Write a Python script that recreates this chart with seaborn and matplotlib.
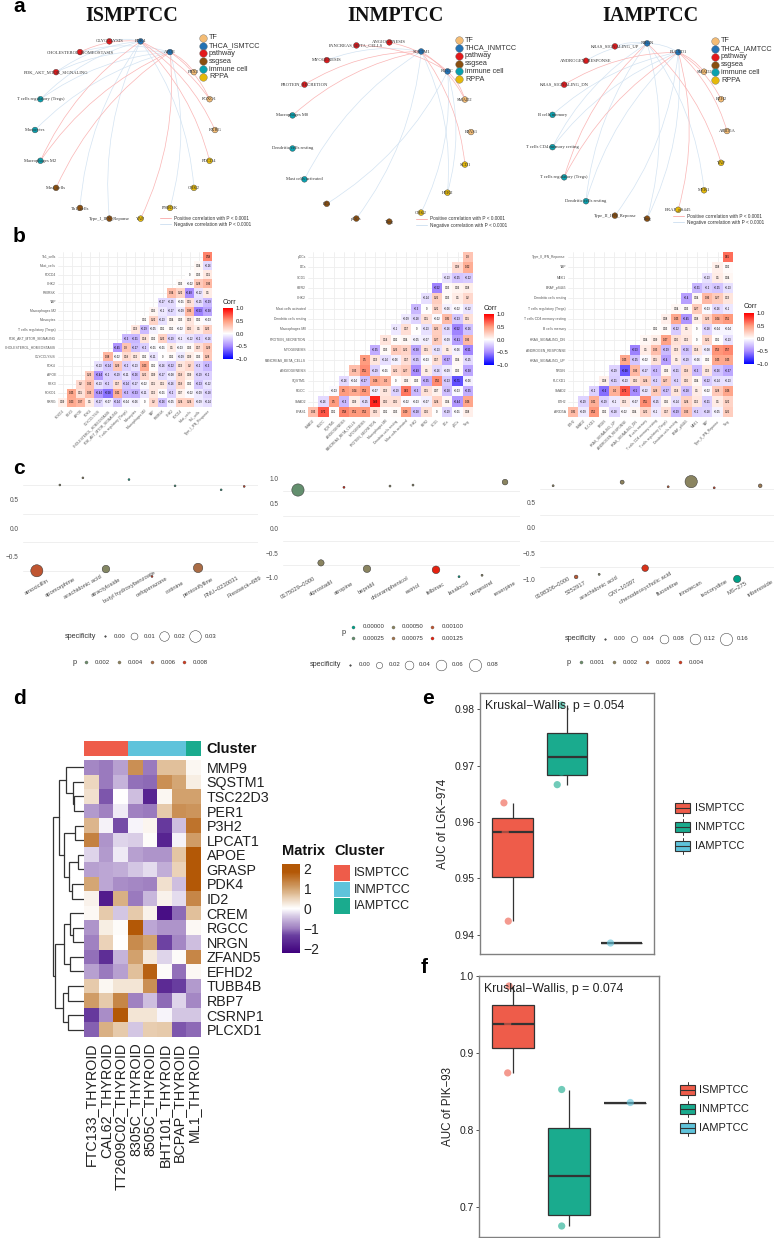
import numpy as np
import pandas as pd
import matplotlib
matplotlib.use("Agg")
import matplotlib.pyplot as plt
from matplotlib.colors import LinearSegmentedColormap, ListedColormap, Normalize
from matplotlib.patches import FancyArrowPatch, Rectangle
import seaborn as sns

W, H = 774, 1238

# ---- panel a: networks
is_nodes = ["PDK4", "APOE", "PBX3", "FOXO1", "RXRG", "PDCD4", "CHK2", "P90RSK", "YAP",
            "Type_I_IFN_Reponse", "Th1_cells", "Mast_cells", "Macrophages M2", "Monocytes",
            "T cells regulatory (Tregs)", "PI3K_AKT_MTOR_SIGNALING",
            "CHOLESTEROL_HOMEOSTASIS", "GLYCOLYSIS"]
is_groups = ["hub"] * 2 + ["TF"] * 3 + ["RPPA"] * 4 + ["ssgsea"] * 3 + ["immune cell"] * 3 + ["pathway"] * 3
is_pos = [("PDK4", "CHOLESTEROL_HOMEOSTASIS"), ("PDK4", "Macrophages M2"), ("PDK4", "FOXO1"),
          ("PDK4", "RXRG"), ("PDK4", "PDCD4"), ("APOE", "Macrophages M2"), ("APOE", "Mast_cells"),
          ("APOE", "YAP"), ("APOE", "PBX3"), ("APOE", "FOXO1")]
is_neg = [("PDK4", "GLYCOLYSIS"), ("PDK4", "PI3K_AKT_MTOR_SIGNALING"), ("PDK4", "T cells regulatory (Tregs)"),
          ("PDK4", "Th1_cells"), ("PDK4", "Type_I_IFN_Reponse"), ("PDK4", "CHK2"),
          ("APOE", "CHOLESTEROL_HOMEOSTASIS"), ("APOE", "PI3K_AKT_MTOR_SIGNALING"),
          ("APOE", "T cells regulatory (Tregs)"), ("APOE", "Monocytes"), ("APOE", "P90RSK")]

in_nodes = ["SQSTM1", "RGCC", "SMAD2", "EPAS1", "SCD1", "HER2", "CHK2", "Treg", "pDCs", "DCs",
            "Mast cells activated", "Dendritic cells resting", "Macrophages M0",
            "PROTEIN_SECRETION", "MYOGENESIS", "PANCREAS_BETA_CELLS", "ANGIOGENESIS"]
in_groups = ["hub"] * 2 + ["TF"] * 2 + ["RPPA"] * 3 + ["ssgsea"] * 3 + ["immune cell"] * 3 + ["pathway"] * 4
in_pos = [("SQSTM1", "PROTEIN_SECRETION"), ("SQSTM1", "Macrophages M0"), ("SQSTM1", "SMAD2"),
          ("SQSTM1", "SCD1"), ("RGCC", "ANGIOGENESIS"), ("RGCC", "PANCREAS_BETA_CELLS"),
          ("RGCC", "SMAD2")]
in_neg = [("SQSTM1", "MYOGENESIS"), ("SQSTM1", "Mast cells activated"), ("SQSTM1", "pDCs"),
          ("SQSTM1", "HER2"), ("RGCC", "DCs"), ("RGCC", "CHK2"), ("RGCC", "HER2")]

ia_nodes = ["NRGN", "PLCXD1", "SMAD2", "EZH2", "ARID5A", "YAP", "MEK1", "BRAF_pS445", "Treg",
            "Type_II_IFN_Reponse", "Dendritic cells resting", "T cells regulatory (Tregs)",
            "T cells CD4 memory resting", "B cells memory", "KRAS_SIGNALING_DN",
            "ANDROGEN_RESPONSE", "KRAS_SIGNALING_UP"]
ia_groups = ["hub"] * 2 + ["TF"] * 3 + ["RPPA"] * 3 + ["ssgsea"] * 2 + ["immune cell"] * 4 + ["pathway"] * 3
ia_pos = [("NRGN", "T cells regulatory (Tregs)"), ("NRGN", "YAP"), ("PLCXD1", "KRAS_SIGNALING_DN"),
          ("PLCXD1", "T cells regulatory (Tregs)"), ("PLCXD1", "BRAF_pS445"), ("PLCXD1", "EZH2"),
          ("PLCXD1", "SMAD2"), ("PLCXD1", "ARID5A")]
ia_neg = [("NRGN", "KRAS_SIGNALING_UP"), ("NRGN", "ANDROGEN_RESPONSE"), ("NRGN", "T cells CD4 memory resting"),
          ("NRGN", "Dendritic cells resting"), ("NRGN", "Treg"), ("NRGN", "MEK1"),
          ("PLCXD1", "NRGN"), ("PLCXD1", "B cells memory"), ("PLCXD1", "T cells CD4 memory resting"),
          ("PLCXD1", "Type_II_IFN_Reponse"), ("PLCXD1", "Dendritic cells resting"), ("PLCXD1", "Treg")]

# ---- panel b: correlation triangles, rows from the bottom up
is_cols = ["FOXO1", "PBX3", "APOE", "PDK4", "GLYCOLYSIS", "CHOLESTEROL_HOMEOSTASIS",
           "PI3K_AKT_MTOR_SIGNALING", "T cells regulatory (Tregs)", "Monocytes", "Macrophages M2",
           "YAP", "P90RSK", "CHK2", "PDCD4", "Mast_cells", "Th1_cells", "Type_I_IFN_Response"]
is_rows = ["RXRG", "FOXO1", "PBX3", "APOE", "PDK4", "GLYCOLYSIS", "CHOLESTEROL_HOMEOSTASIS",
           "PI3K_AKT_MTOR_SIGNALING", "T cells regulatory (Tregs)", "Monocytes", "Macrophages M2",
           "YAP", "P90RSK", "CHK2", "PDCD4", "Mast_cells", "Th1_cells"]
is_corr = [
    [0.09, 0.43, 0.37, 0.1, -0.17, -0.07, -0.24, -0.04, -0.06, 0, 0.2, -0.26, -0.05, 0.24, 0.24, -0.09, -0.14],
    [0.45, 0.15, 0.33, -0.44, -0.58, 0.41, -0.3, -0.33, -0.11, 0.12, -0.01, -0.2, 0.07, -0.02, -0.09, -0.18],
    [0.2, 0.32, -0.13, -0.2, 0.17, -0.24, -0.17, -0.02, 0.11, 0.11, -0.16, 0.19, 0.02, -0.23, -0.12],
    [0.26, -0.44, -0.2, -0.19, -0.11, -0.26, 0.21, 0.09, -0.17, -0.08, 0.19, 0.09, -0.19, -0.2],
    [-0.13, -0.24, 0.29, -0.2, -0.13, 0.43, 0.01, -0.16, -0.22, 0.13, 0.2, -0.2, -0.3],
    [0.38, -0.02, 0.19, 0.12, 0.02, -0.11, 0.0, 0.02, -0.09, 0.09, 0.03, 0.28],
    [-0.45, 0.3, -0.27, -0.2, -0.01, -0.01, 0.1, -0.03, 0.03, 0.17, 0.29],
    [-0.3, -0.31, 0.14, 0.02, 0.23, -0.19, -0.1, -0.12, -0.2, -0.16],
    [0.13, -0.29, -0.05, 0.01, 0.02, -0.02, 0.16, 0.1, 0.23],
    [0.01, 0.22, -0.13, 0.04, 0.03, 0.13, 0.02, -0.03],
    [0.05, -0.1, -0.17, -0.09, 0.36, -0.53, -0.38],
    [-0.17, -0.15, -0.01, 0.15, -0.15, -0.29],
    [0.34, 0.22, -0.48, -0.12, 0.1],
    [0.03, -0.02, 0.28, 0.36],
    [0, 0.03, 0.11],
    [0.04, -0.16],
    [0.58],
]

in_cols = ["SMAD2", "RGCC", "SQSTM1", "ANGIOGENESIS", "PANCREAS_BETA_CELLS", "MYOGENESIS",
           "PROTEIN_SECRETION", "Macrophages M0", "Dendritic cells resting", "Mast cells activated",
           "CHK2", "HER2", "SCD1", "DCs", "pDCs", "Treg"]
in_rows = ["EPAS1", "SMAD2", "RGCC", "SQSTM1", "ANGIOGENESIS", "PANCREAS_BETA_CELLS", "MYOGENESIS",
           "PROTEIN_SECRETION", "Macrophages M0", "Dendritic cells resting", "Mast cells activated",
           "CHK2", "HER2", "SCD1", "DCs", "pDCs"]
in_corr = [
    [0.33, 0.72, 0.01, 0.58, 0.51, 0.52, 0.16, 0.01, 0.03, 0.49, -0.28, 0.16, 0, -0.19, -0.01, 0.08],
    [-0.16, 0.5, -0.3, 0.09, -0.15, 0.89, 0.16, 0.16, -0.02, -0.03, -0.07, 0.24, 0.04, -0.44, 0.46],
    [-0.03, 0.5, 0.44, 0.52, -0.07, 0.13, -0.19, 0.62, -0.3, 0.15, 0.07, -0.28, -0.03, -0.35],
    [-0.16, -0.04, -0.27, 0.46, 0.4, 0, 0.06, 0.03, -0.35, 0.56, -0.23, -0.71, -0.06],
    [0.33, 0.55, -0.19, -0.01, 0.21, 0.27, -0.49, 0.1, -0.16, -0.09, 0.03, -0.38],
    [0.5, 0.13, -0.14, -0.06, 0.17, -0.25, -0.03, 0.17, -0.37, 0.04, -0.15],
    [-0.35, 0.03, 0.26, 0.22, -0.38, 0.15, -0.13, 0.1, -0.06, -0.51],
    [0.14, 0.02, 0.04, -0.05, -0.07, 0.27, -0.09, -0.41, 0.36],
    [-0.1, 0.17, 0, -0.13, 0.25, -0.16, -0.52, -0.26],
    [-0.09, -0.18, 0.15, -0.02, 0.35, -0.23, 0.15],
    [-0.3, 0, 0.21, -0.06, -0.02, -0.12],
    [-0.14, 0.25, 0.03, 0.1, 0.2],
    [-0.52, 0.03, 0.06, 0.08],
    [-0.13, -0.25, -0.22],
    [0.18, 0.42],
    [0.3],
]

ia_cols = ["EZH2", "SMAD2", "PLCXD1", "NRGN", "KRAS_SIGNALING_UP", "ANDROGEN_RESPONSE",
           "KRAS_SIGNALING_DN", "B cells memory", "T cells CD4 memory resting",
           "T cells regulatory (Tregs)", "Dendritic cells resting", "BRAF_pS445", "MEK1", "YAP",
           "Type_II_IFN_Reponse", "Treg"]
ia_rows = ["ARID5A", "EZH2", "SMAD2", "PLCXD1", "NRGN", "KRAS_SIGNALING_UP", "ANDROGEN_RESPONSE",
           "KRAS_SIGNALING_DN", "B cells memory", "T cells CD4 memory resting",
           "T cells regulatory (Tregs)", "Dendritic cells resting", "BRAF_pS445", "MEK1", "YAP",
           "Type_II_IFN_Reponse"]
ia_corr = [
    [0.35, -0.09, 0.52, 0.02, -0.18, -0.02, 0.04, 0.22, -0.1, 0.17, -0.29, 0.33, -0.2, -0.18, -0.05, 0.25],
    [-0.19, 0.41, -0.19, -0.1, 0.12, -0.07, 0.55, -0.15, 0.05, -0.14, 0.24, 0.12, -0.21, 0.1, 0.22],
    [-0.2, -0.6, 0.4, 0.72, -0.5, -0.12, 0.28, -0.27, 0.14, -0.28, 0.1, -0.02, 0.28, 0.46],
    [0.08, -0.21, -0.13, 0.16, 0.24, -0.2, 0.27, -0.2, 0.16, 0.04, -0.22, -0.14, -0.13],
    [-0.19, -0.68, 0.36, -0.17, -0.3, 0.06, -0.21, 0.19, -0.3, 0.13, -0.26, -0.37],
    [0.45, -0.25, -0.02, 0.15, -0.4, 0.1, -0.19, -0.06, 0.02, 0.45, 0.45],
    [-0.53, 0.1, 0.33, -0.29, 0.13, -0.26, 0.14, -0.08, 0.53, 0.57],
    [0.04, 0.09, 0.47, 0.16, 0.12, 0, 0.21, 0.01, -0.13],
    [0.01, 0.03, -0.22, 0.1, 0, -0.18, -0.04, -0.04],
    [0.08, 0.45, -0.45, 0.08, 0.23, 0.44, 0.51],
    [0.04, 0.03, 0.27, -0.03, -0.16, -0.1],
    [-0.4, 0.04, 0.36, 0.27, 0.13],
    [-0.31, -0.2, -0.25, -0.13],
    [-0.13, 0.1, 0.04],
    [0.08, 0.02],
    [0.65],
]

# ---- panel c: drug bubbles
c1_drugs = ["amoxicillin", "apomorphine", "arachidonic acid", "atractyloside", "butyl hydroxybenzoate",
            "cefoperazone", "cotinine", "pentoxifylline", "PNU\u22120230031", "Prestwick\u2212689"]
c1_corr = [-0.75, 0.755, 0.88, -0.72, 0.85, -0.85, 0.74, -0.70, 0.67, 0.73]
c1_spec = [0.032, 0.0003, 0.0003, 0.012, 0.0003, 0.0003, 0.0003, 0.019, 0.0003, 0.0003]
c1_p = [0.0072, 0.003, 0.004, 0.003, 0.0002, 0.0085, 0.001, 0.006, 0.0006, 0.008]

c2_drugs = ["0175029\u22120000", "alprostadil", "atropine", "bepridil", "chloramphenicol", "estriol",
            "felbinac", "lasalocid", "norgestrel", "reserpine"]
c2_corr = [0.775, -0.70, 0.83, -0.82, 0.855, 0.875, -0.84, -0.98, -0.95, 0.935]
c2_spec = [0.08, 0.02, 0.001, 0.028, 0.001, 0.001, 0.03, 0.001, 0.001, 0.016]
c2_p = [0.00025, 0.0005, 0.00125, 0.0005, 0.0005, 0.0005, 0.00125, 0.0, 0.0005, 0.0005]

c3_drugs = ["0198306\u22120000", "5252917", "arachidonic acid", "CAY\u221210397", "chenodeoxycholic acid",
            "fluoxetine", "irinotecan", "isocorydine", "MS\u2212275", "tribenoside"]
c3_corr = [0.82, -0.95, -0.90, 0.89, -0.78, 0.80, 0.90, 0.78, -0.99, 0.82]
c3_spec = [0.002, 0.012, 0.002, 0.015, 0.045, 0.002, 0.16, 0.002, 0.055, 0.012]
c3_p = [0.002, 0.0035, 0.0015, 0.002, 0.0042, 0.0035, 0.0018, 0.004, 0.0, 0.0025]

# ---- panel d: expression heatmap
d_genes = ["MMP9", "SQSTM1", "TSC22D3", "PER1", "P3H2", "LPCAT1", "APOE", "GRASP", "PDK4", "ID2",
           "CREM", "RGCC", "NRGN", "ZFAND5", "EFHD2", "TUBB4B", "RBP7", "CSRNP1", "PLCXD1"]
d_lines = ["FTC133_THYROID", "CAL62_THYROID", "TT2609C02_THYROID", "8305C_THYROID", "8505C_THYROID",
           "BHT101_THYROID", "BCPAP_THYROID", "ML1_THYROID"]
d_cluster = [0, 0, 0, 1, 1, 1, 1, 2]
d_values = [
    [-0.9, -1.0, -0.7, 1.2, -1.0, 0.7, 0.7, 0.1],
    [0.45, -1.0, -0.55, -1.05, -1.1, 1.2, 0.95, 0.2],
    [0.35, -1.2, 0.0, -0.45, -1.7, 0.1, 1.0, 1.0],
    [-0.75, -0.95, -0.15, -0.95, -1.0, 0.6, 1.2, 1.15],
    [0.8, -0.1, -1.25, -0.08, 0.12, -1.4, -0.45, 1.5],
    [1.35, -0.8, -0.3, -0.35, 0.05, -1.7, -0.1, 1.05],
    [-0.3, -0.75, -0.15, -0.7, -0.8, -0.8, 0.65, 2.0],
    [-0.7, -0.65, -0.6, -0.4, -0.25, -0.6, 0.5, 2.0],
    [0.95, -0.65, -0.85, -0.9, -0.95, 0.35, -0.45, 1.8],
    [0.15, -1.8, 0.85, -1.0, -0.5, 0.15, -0.25, 1.3],
    [0.08, 0.6, -0.4, 0.6, 0.15, -2.0, -1.1, 0.7],
    [-0.8, 0.2, 0.05, 2.0, -0.65, -0.8, -0.8, 0.08],
    [-0.95, 0.5, 0.0, 1.25, 1.0, -1.3, -0.9, -0.45],
    [-1.05, -1.55, -0.55, 1.0, 0.25, -0.3, 0.05, 1.3],
    [-0.7, -1.0, -0.7, 0.7, 1.7, 0.05, -1.05, 0.08],
    [0.6, 0.1, 0.3, 0.3, 1.2, -1.6, -1.35, -0.75],
    [1.05, 0.6, 1.3, -0.95, -0.45, -1.1, -0.3, -0.9],
    [-1.4, -0.85, 2.0, 0.3, 0.3, -0.07, -0.4, -0.4],
    [-1.15, 0.85, 0.6, -0.4, 0.55, 0.6, -1.2, -1.1],
]
# nested merges: (height, left, right), ints are row numbers
d_tree = (1.0,
          (0.81, (0.57, 0, (0.36, 1, (0.31, 2, 3))),
           (0.64, (0.29, 4, 5), (0.49, (0.18, 6, 7), (0.40, 8, 9)))),
          (0.94, (0.64, (0.46, 10, (0.37, 11, 12)), (0.46, 13, 14)),
           (0.69, (0.53, 15, 16), (0.53, 17, 18))))

# ---- panels e, f: boxplots
clusters = ["ISMPTCC", "INMPTCC", "IAMPTCC"]
e_group = [0, 0, 0, 1, 1, 1, 1, 2]
e_auc = [0.9634, 0.9582, 0.9424, 0.98077, 0.97414, 0.96882, 0.96663, 0.93852]
e_jitter = [-0.16, -0.135, -0.08, -0.10, 0.04, -0.10, -0.18, -0.20]
f_group = [0, 0, 0, 1, 1, 1, 1, 2]
f_auc = [0.987, 0.938, 0.874, 0.8524, 0.7857, 0.6939, 0.6749, 0.8355]
f_jitter = [-0.065, -0.09, -0.09, -0.13, -0.15, -0.065, -0.13, 0.09]

NODE_COLORS = {"TF": "#F4BC74", "hub": "#2272B4", "pathway": "#E2191C", "ssgsea": "#8A4F10",
               "immune cell": "#09A0AE", "RPPA": "#E5B90A"}
CLUSTER_COLORS = ["#EE5C4A", "#1AAB8E", "#5FC3DB"]
HEAT_CLUSTER = ["#EE5C4A", "#5FC3DB", "#1AAB8E"]

sns.set_theme(style="white")
plt.rcParams["font.family"] = ["Liberation Sans", "DejaVu Sans"]
plt.rcParams["axes.unicode_minus"] = True

fig = plt.figure(figsize=(W / 100, H / 100), dpi=100)


def ax_px(x0, y0, x1, y1):
    return fig.add_axes([x0 / W, 1 - y1 / H, (x1 - x0) / W, (y1 - y0) / H])


corr_cmap = LinearSegmentedColormap.from_list(
    "corr", ["#0000FF", "#A78AFF", "#FFFFFF", "#FF9E81", "#FF0000"])
p_cmap = LinearSegmentedColormap.from_list(
    "pval", ["#00A087", "#7C8B68", "#93805A", "#B5623A", "#E6210F"])
d_cmap = LinearSegmentedColormap.from_list(
    "puor", [(0, "#3F007D"), (0.2, "#6A3FA0"), (0.273, "#9C7CBF"), (0.386, "#C9B8DC"), (0.5, "#FFFFFF"),
             (0.614, "#EBD3B9"), (0.727, "#D2A26E"), (0.909, "#B35806"), (1, "#B35806")])


def draw_network(box, center, radius, first_angle, nodes, groups, pos, neg):
    ax = ax_px(*box)
    cx, cy = center
    ax.set_xlim((box[0] - cx) / radius, (box[2] - cx) / radius)
    ax.set_ylim((cy - box[3]) / radius, (cy - box[1]) / radius)
    ax.axis("off")
    step = 360.0 / len(nodes)
    angles = np.radians(first_angle + step * np.arange(len(nodes)))
    df = pd.DataFrame({"name": nodes, "group": groups, "x": np.sin(angles), "y": np.cos(angles)})
    where = df.set_index("name")
    for pairs, color in [(neg, "#D3E3F2"), (pos, "#FAB4B4")]:
        for a, b in pairs:
            pa, pb = where.loc[a, ["x", "y"]].values, where.loc[b, ["x", "y"]].values
            d = pb - pa
            # bend away from the middle of the ring
            side = np.dot((pa + pb) / 2, [d[1], -d[0]])
            rad = 0.14 if side >= 0 else -0.14
            ax.add_patch(FancyArrowPatch(tuple(pa), tuple(pb), connectionstyle=f"arc3,rad={rad}",
                                         arrowstyle="-", color=color, lw=0.5, shrinkA=0, shrinkB=0))
    sns.scatterplot(data=df, x="x", y="y", hue="group", palette=NODE_COLORS, s=17, edgecolor="#444444",
                    linewidth=0.3, legend=False, ax=ax, zorder=3, clip_on=False)
    ax.set_xlabel("")
    ax.set_ylabel("")
    for _, row in df.iterrows():
        ax.text(row["x"], row["y"], row["name"], fontsize=3.3, family=["Liberation Serif"], color="#333333",
                ha="center", va="center", zorder=4, clip_on=False)


draw_network((0, 25, 260, 235), (125, 130), 90, 10, is_nodes, is_groups, is_pos, is_neg)
draw_network((262, 25, 515, 235), (381, 132), 90, 26.5, in_nodes, in_groups, in_pos, in_neg)
draw_network((520, 25, 774, 235), (639, 131), 88, 5.3, ia_nodes, ia_groups, ia_pos, ia_neg)


def draw_triangle(box, cbar_box, cols, rows, corr):
    n = len(cols)
    mat = np.full((n, n), np.nan)
    for k, vals in enumerate(corr):
        mat[k, n - len(vals):] = vals
    mat = mat[::-1]
    labels = np.full((n, n), "", dtype=object)
    for (i, j), v in np.ndenumerate(mat):
        if not np.isnan(v):
            labels[i, j] = f"{v:g}".replace("-", "\u2212")
    ax = ax_px(*box)
    cax = ax_px(*cbar_box)
    sns.heatmap(mat, mask=np.isnan(mat), cmap=corr_cmap, vmin=-1, vmax=1, annot=labels, fmt="",
                annot_kws={"fontsize": 1.9, "color": "black"}, linewidths=0,
                xticklabels=cols, yticklabels=rows[::-1], cbar_ax=cax, ax=ax,
                cbar_kws={"ticks": [-1, -0.5, 0, 0.5, 1]})
    ax.set_axisbelow(True)
    ax.grid(True, color="#EEEEEE", lw=0.6)
    ax.tick_params(length=0, labelsize=2.4, labelcolor="#555555", pad=1.5)
    plt.setp(ax.get_xticklabels(), rotation=45, ha="right", rotation_mode="anchor")
    plt.setp(ax.get_yticklabels(), rotation=0)
    cb = ax.collections[0].colorbar
    cb.outline.set_visible(False)
    cb.ax.tick_params(length=0, labelsize=4.3, pad=2, labelcolor="#222222")
    cb.ax.set_yticklabels(["\u22121.0", "\u22120.5", "0.0", "0.5", "1.0"])
    fig.text(cbar_box[0] / W, 1 - (cbar_box[1] - 6) / H, "Corr", fontsize=5, va="center", color="#222222")


draw_triangle((58, 252, 212.5, 407), (223, 308, 233, 359), is_cols, is_rows, is_corr)
draw_triangle((308, 252, 473, 417), (484, 314, 494, 365), in_cols, in_rows, in_corr)
draw_triangle((568, 252, 733, 417), (744, 313, 754, 364), ia_cols, ia_rows, ia_corr)


def draw_bubbles(box, ylim, yticks, drugs, corr, spec, p, p_max, spec_max, xlim):
    ax = ax_px(*box)
    df = pd.DataFrame({"drug": drugs, "corr": corr, "specificity": spec, "p": p})
    sns.scatterplot(data=df, x="drug", y="corr", hue="p", hue_norm=Normalize(0, p_max), palette=p_cmap,
                    size="specificity", size_norm=Normalize(0, spec_max), sizes=(1.2, 78),
                    edgecolor="#333333", linewidth=0.35, legend=False, ax=ax, zorder=3, clip_on=False)
    ax.set_xlim(*xlim)
    ax.set_ylim(*ylim)
    ax.set_yticks(yticks)
    ax.set_yticks(np.array([-0.75, -0.25, 0.25, 0.75]), minor=True)
    ax.grid(True, which="minor", axis="y", color="#EFEFEF", lw=0.7)
    ax.set_axisbelow(True)
    ax.set_yticklabels([f"{t:.1f}".replace("-", "\u2212") for t in yticks])
    ax.set_xticks(range(len(drugs)))
    ax.set_xticklabels(drugs, rotation=30, ha="center", va="center", rotation_mode="anchor")
    ax.tick_params(axis="x", length=0, labelsize=4.2, labelcolor="#4D4D4D", pad=3.8)
    ax.tick_params(axis="y", which="both", length=0, labelsize=4.7, labelcolor="#4D4D4D", pad=3)
    ax.set_xlabel("")
    ax.set_ylabel("")
    sns.despine(ax=ax, left=True, bottom=True)


draw_bubbles((23, 470, 258, 582), (-0.947, 1.018), [-0.5, 0, 0.5], c1_drugs, c1_corr, c1_spec, c1_p,
             0.009, 0.033, (-0.6, 9.6))
draw_bubbles((283, 470, 520, 583), (-1.107, 1.18), [-1, -0.5, 0, 0.5, 1], c2_drugs, c2_corr, c2_spec, c2_p,
             0.00125, 0.08, (-0.65, 9.65))
draw_bubbles((540, 470, 774, 583), (-1.068, 1.126), [-1, -0.5, 0, 0.5], c3_drugs, c3_corr, c3_spec, c3_p,
             0.0045, 0.16, (-0.57, 9.6))


# panel d
dendro_ax = ax_px(53, 760, 84, 1037)
dendro_ax.set_xlim(1.0, 0)
dendro_ax.set_ylim(19, 0)
dendro_ax.axis("off")


def draw_tree(node):
    if isinstance(node, int):
        return node + 0.5, 0.0
    h, left, right = node
    y1, h1 = draw_tree(left)
    y2, h2 = draw_tree(right)
    dendro_ax.plot([h1, h, h, h2], [y1, y1, y2, y2], color="#333333", lw=0.9, solid_joinstyle="miter",
                   clip_on=False)
    return (y1 + y2) / 2, h


draw_tree(d_tree)

bar_ax = ax_px(84, 741, 201, 756)
sns.heatmap(np.array([d_cluster]), cmap=ListedColormap(HEAT_CLUSTER), cbar=False,
            xticklabels=False, yticklabels=False, ax=bar_ax)

d_ax = ax_px(84, 760, 201, 1037)
d_cax = ax_px(282, 864, 299.5, 953)
sns.heatmap(np.array(d_values), cmap=d_cmap, vmin=-2.2, vmax=2.2, xticklabels=d_lines, yticklabels=d_genes,
            cbar_ax=d_cax, cbar_kws={"ticks": [-2, -1, 0, 1, 2]}, ax=d_ax)
d_ax.yaxis.tick_right()
d_ax.tick_params(length=0, labelsize=10.3, labelcolor="#222222", pad=4)
plt.setp(d_ax.get_yticklabels(), rotation=0)
plt.setp(d_ax.get_xticklabels(), rotation=90)
cb = d_ax.collections[0].colorbar
cb.outline.set_visible(False)
cb.ax.set_yticklabels(["\u22122", "\u22121", "0", "1", "2"])
cb.ax.tick_params(axis="y", direction="in", length=4, width=0.7, color="white", left=True, right=True,
                  labelsize=10, labelcolor="#222222", pad=3)


def draw_box(box, ylim, yticks, ylabel, label_x, stat, group, auc, jitter):
    ax = ax_px(*box)
    df = pd.DataFrame({"cluster": [clusters[g] for g in group], "auc": auc})
    sns.boxplot(data=df, x="cluster", y="auc", hue="cluster", order=clusters, hue_order=clusters,
                palette=CLUSTER_COLORS, width=0.75, showfliers=False, showcaps=False, saturation=1,
                linecolor="#333333", linewidth=0.9, medianprops={"linewidth": 1.6}, legend=False, ax=ax)
    pts = pd.DataFrame({"pos": np.array(group) + np.array(jitter), "auc": auc,
                        "cluster": df["cluster"]})
    sns.scatterplot(data=pts, x="pos", y="auc", hue="cluster", palette=CLUSTER_COLORS, hue_order=clusters,
                    s=27, alpha=0.62, linewidth=0, legend=False, ax=ax, zorder=5, clip_on=False)
    ax.set_xlim(-0.6, 2.6)
    ax.set_ylim(*ylim)
    ax.set_yticks(yticks)
    ax.set_yticklabels([f"{t:.2f}" if t > 0.93 and box[1] < 900 else f"{t:.1f}" for t in yticks])
    ax.set_xticks([])
    ax.set_xlabel("")
    ax.set_ylabel("")
    ax.tick_params(axis="y", left=True, length=2.5, width=0.6, color="#333333", labelsize=7.4,
                   labelcolor="#222222", pad=1.5)
    for s in ax.spines.values():
        s.set_color("#808080")
        s.set_linewidth(1)
    fig.text(label_x / W, 1 - (box[1] + box[3]) / 2 / H, ylabel, rotation=90, fontsize=8.4, color="#222222",
             ha="center", va="center")
    fig.text((box[0] + 5) / W, 1 - (box[1] + 13) / H, stat, fontsize=8.8, color="#222222", va="center")


draw_box((480, 693, 654, 954), (0.93657, 0.9829), [0.94, 0.95, 0.96, 0.97, 0.98], "AUC of LGK\u2212974", 443,
         "Kruskal\u2212Wallis, p = 0.054", e_group, e_auc, e_jitter)
draw_box((479, 976, 659, 1237), (0.6606, 1.0), [0.7, 0.8, 0.9, 1.0], "AUC of PIK\u221293", 448,
         "Kruskal\u2212Wallis, p = 0.074", f_group, f_auc, f_jitter)

# overlay in pixel units: titles, letters and hand-placed legends
ov = fig.add_axes([0, 0, 1, 1], zorder=20)
ov.set_xlim(0, W)
ov.set_ylim(H, 0)
ov.axis("off")
ov.patch.set_alpha(0)

for letter, x, y in [("a", 13, 12), ("b", 13, 242), ("c", 13, 474), ("d", 13, 704), ("e", 422, 704), ("f", 421, 973)]:
    ov.text(x, y, letter, fontsize=15, fontweight="bold", color="black", ha="left", va="baseline")
for title, x in [("ISMPTCC", 132), ("INMPTCC", 395), ("IAMPTCC", 650)]:
    ov.text(x, 16, title, fontsize=14.5, fontweight="bold", family=["Liberation Serif"], color="#111111",
            ha="center", va="center")

net_keys = ["TF", "hub", "pathway", "ssgsea", "immune cell", "RPPA"]
for hub_name, kx, ky, tx, line_x, line_y in [("THCA_ISMTCC", 203, 37.7, 209, 160, 218),
                                             ("THCA_INMTCC", 458.7, 40, 465, 416, 219),
                                             ("THCA_IAMTCC", 715, 41, 721, 673, 216)]:
    for i, key in enumerate(net_keys):
        y = ky + i * 7.85
        ov.scatter([kx], [y], s=30, color=NODE_COLORS[key], edgecolor="#777777", linewidth=0.3, zorder=2)
        ov.text(tx, y, hub_name if key == "hub" else key, fontsize=5.2, color="#333333", va="center")
    for i, (txt, col) in enumerate([("Positive correlation with P < 0.0001", "#FAB4B4"),
                                    ("Negative correlation with P < 0.0001", "#D3E3F2")]):
        y = line_y + i * 6.3
        ov.plot([line_x, line_x + 11], [y, y], color=col, lw=0.7)
        ov.text(line_x + 14, y, txt, fontsize=3.4, color="#333333", va="center")


def spec_legend(x_title, y, key_xs, label_xs, labels, spec_max):
    ov.text(x_title, y, "specificity", fontsize=5.2, color="#333333", va="center")
    for kx, lx, lab in zip(key_xs, label_xs, labels):
        area = 1.2 + (78 - 1.2) * float(lab) / spec_max
        ov.scatter([kx], [y], s=area, facecolor="white" if float(lab) > 0 else "#555555",
                   edgecolor="#333333", linewidth=0.35)
        ov.text(lx, y, lab, fontsize=4.3, color="#333333", va="center")


def p_legend(x_title, rows, labels, p_max):
    ov.text(x_title, np.mean([r[2] for r in rows]), "p", fontsize=5.2, color="#333333", va="center")
    for (kx, lx, y), lab in zip(rows, labels):
        ov.scatter([kx], [y], s=5, color=p_cmap(float(lab) / p_max), edgecolor="#555555", linewidth=0.2)
        ov.text(lx, y, lab, fontsize=4.3, color="#333333", va="center")


spec_legend(65, 636, [105, 134.3, 164, 195], [114, 143.7, 173.3, 205], ["0.00", "0.01", "0.02", "0.03"], 0.033)
p_legend(73, [(86, 95, 662), (119, 128, 662), (152, 161, 662), (184, 193, 662)],
         ["0.002", "0.004", "0.006", "0.008"], 0.009)

spec_legend(310, 665, [350, 379, 409, 441, 475], [359, 389, 419, 452, 487],
            ["0.00", "0.02", "0.04", "0.06", "0.08"], 0.08)
p_legend(342, [(353, 363, 627), (353, 363, 638), (393, 402, 627), (393, 402, 638), (432, 442, 627), (432, 442, 638)],
         ["0.00000", "0.00025", "0.00050", "0.00075", "0.00100", "0.00125"], 0.00125)

spec_legend(565, 639, [604.7, 634, 664, 694.7, 726], [614, 643, 673, 704, 737],
            ["0.00", "0.04", "0.08", "0.12", "0.16"], 0.16)
p_legend(567, [(581, 590, 662), (614, 623, 662), (647, 656, 662), (680, 689, 662)],
         ["0.001", "0.002", "0.003", "0.004"], 0.0045)

# d legends
ov.text(206, 749, "Cluster", fontsize=10.5, fontweight="bold", color="#111111", va="center")
ov.text(282, 851, "Matrix", fontsize=10.5, fontweight="bold", color="#111111", va="center")
ov.text(334, 851, "Cluster", fontsize=10.5, fontweight="bold", color="#111111", va="center")
for i, name in enumerate(clusters):
    y0 = 865 + i * 16.7
    ov.add_patch(Rectangle((334, y0), 15.5, 15.5, facecolor=HEAT_CLUSTER[i], edgecolor="none"))
    ov.text(354, y0 + 8, name, fontsize=9, color="#222222", va="center")


def box_key(x, y, color, text, text_x):
    ov.plot([x + 7.5, x + 7.5], [y - 8, y + 8], color="#333333", lw=0.7, zorder=1)
    ov.add_patch(Rectangle((x, y - 5), 15, 10, facecolor=color, edgecolor="#333333", lw=0.8, zorder=2))
    ov.plot([x, x + 15], [y, y], color="#333333", lw=0.8, zorder=3)
    ov.text(text_x, y, text, fontsize=7.9, color="#222222", va="center")


for i, name in enumerate(clusters):
    box_key(675, 807.7 + i * 19, CLUSTER_COLORS[i], name, 695)
    box_key(680, 1090 + i * 19, CLUSTER_COLORS[i], name, 699)

fig.savefig("out.png", dpi=100)
